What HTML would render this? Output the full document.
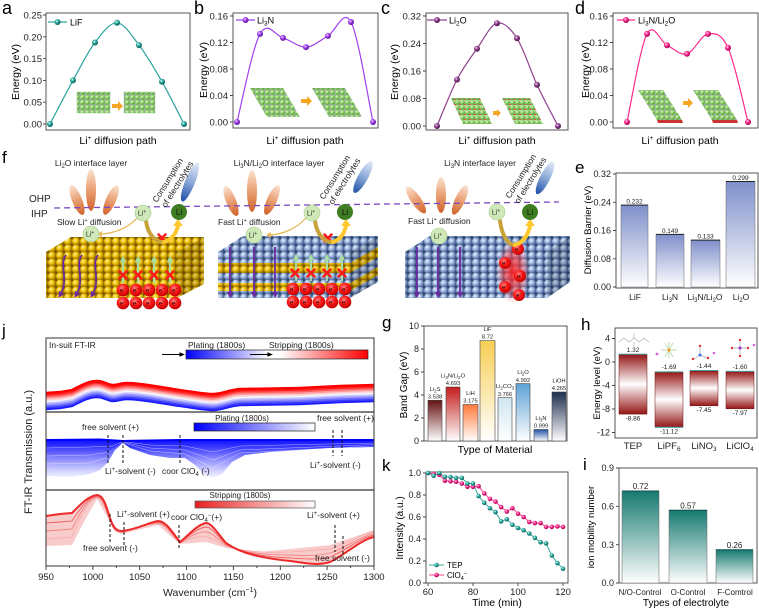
<!DOCTYPE html>
<html><head><meta charset="utf-8">
<style>
html,body{margin:0;padding:0;background:#fff;}
svg{display:block;font-family:"Liberation Sans",Arial,sans-serif;}
</style></head><body>
<svg width="759" height="609" viewBox="0 0 759 609" xmlns="http://www.w3.org/2000/svg">
<defs>
<radialGradient id="mTeal" cx=".38" cy=".35" r=".65"><stop offset="0" stop-color="#d8fff8"/><stop offset=".45" stop-color="#2aa89e"/><stop offset="1" stop-color="#0b5e58"/></radialGradient>
<radialGradient id="mViol" cx=".38" cy=".35" r=".65"><stop offset="0" stop-color="#f0d8ff"/><stop offset=".45" stop-color="#a040f0"/><stop offset="1" stop-color="#5a1090"/></radialGradient>
<radialGradient id="mPurp" cx=".38" cy=".35" r=".65"><stop offset="0" stop-color="#f0d0f0"/><stop offset=".45" stop-color="#904090"/><stop offset="1" stop-color="#4a1a4a"/></radialGradient>
<radialGradient id="mPink" cx=".38" cy=".35" r=".65"><stop offset="0" stop-color="#ffd8ec"/><stop offset=".45" stop-color="#ff2a8c"/><stop offset="1" stop-color="#a00050"/></radialGradient>
<radialGradient id="bGold" cx=".38" cy=".35" r=".65"><stop offset="0" stop-color="#fff6b0"/><stop offset=".45" stop-color="#f0c000"/><stop offset="1" stop-color="#9a7000"/></radialGradient>
<radialGradient id="bBlue" cx=".38" cy=".35" r=".65"><stop offset="0" stop-color="#eef4ff"/><stop offset=".45" stop-color="#9ab4dc"/><stop offset="1" stop-color="#4a6296"/></radialGradient>
<radialGradient id="bGreen" cx=".38" cy=".35" r=".65"><stop offset="0" stop-color="#eaffd8"/><stop offset=".5" stop-color="#8acb62"/><stop offset="1" stop-color="#3f8a25"/></radialGradient>
<radialGradient id="bRed" cx=".4" cy=".35" r=".65"><stop offset="0" stop-color="#ff8080"/><stop offset=".5" stop-color="#ff1a1a"/><stop offset="1" stop-color="#c00000"/></radialGradient>
<radialGradient id="glow" cx=".5" cy=".5" r=".5"><stop offset="0" stop-color="#ff2020" stop-opacity=".9"/><stop offset=".6" stop-color="#ff4040" stop-opacity=".5"/><stop offset="1" stop-color="#ff8080" stop-opacity="0"/></radialGradient>
<pattern id="patG" width="8" height="7" patternUnits="userSpaceOnUse"><rect width="8" height="7" fill="#7a5a00"/><circle cx="4" cy="3.5" r="4" fill="url(#bGold)"/></pattern>
<pattern id="patB" width="8" height="7" patternUnits="userSpaceOnUse"><rect width="8" height="7" fill="#34496e"/><circle cx="4" cy="3.5" r="4" fill="url(#bBlue)"/></pattern>
<pattern id="patGr" width="5" height="5" patternUnits="userSpaceOnUse"><rect width="5" height="5" fill="#b8e0a0"/><circle cx="2.5" cy="2.5" r="2.3" fill="url(#bGreen)"/><circle cx="0" cy="0" r="0.9" fill="#8888aa"/><circle cx="5" cy="0" r="0.9" fill="#8888aa"/><circle cx="0" cy="5" r="0.9" fill="#8888aa"/><circle cx="5" cy="5" r="0.9" fill="#8888aa"/></pattern>
<pattern id="patGrR" width="5" height="5" patternUnits="userSpaceOnUse"><rect width="5" height="5" fill="#b8e0a0"/><circle cx="2.5" cy="2.5" r="2.3" fill="url(#bGreen)"/><circle cx="0" cy="5" r="1" fill="#e02020"/><circle cx="5" cy="5" r="1" fill="#e02020"/></pattern>
<linearGradient id="gPet" x1="0" y1="0" x2="0" y2="1"><stop offset="0" stop-color="#fbe2d0"/><stop offset=".5" stop-color="#eaa074"/><stop offset="1" stop-color="#d0622a"/></linearGradient>
<linearGradient id="gCom" x1="0" y1="0" x2="0" y2="1"><stop offset="0" stop-color="#e4ecf8"/><stop offset=".5" stop-color="#8aa8d8"/><stop offset="1" stop-color="#1d4fa5"/></linearGradient>
<linearGradient id="gE" x1="0" y1="0" x2="0" y2="1"><stop offset="0" stop-color="#7f8fca"/><stop offset="1" stop-color="#ffffff"/></linearGradient>
<linearGradient id="g1" x1="0" y1="0" x2="0" y2="1"><stop offset="0" stop-color="#651212"/><stop offset="1" stop-color="#fff"/></linearGradient>
<linearGradient id="g2" x1="0" y1="0" x2="0" y2="1"><stop offset="0" stop-color="#c41c1c"/><stop offset="1" stop-color="#fff"/></linearGradient>
<linearGradient id="g3" x1="0" y1="0" x2="0" y2="1"><stop offset="0" stop-color="#ff7a3a"/><stop offset="1" stop-color="#fff"/></linearGradient>
<linearGradient id="g4" x1="0" y1="0" x2="0" y2="1"><stop offset="0" stop-color="#f7cf55"/><stop offset="1" stop-color="#fff"/></linearGradient>
<linearGradient id="g5" x1="0" y1="0" x2="0" y2="1"><stop offset="0" stop-color="#cfe6f2"/><stop offset="1" stop-color="#fff"/></linearGradient>
<linearGradient id="g6" x1="0" y1="0" x2="0" y2="1"><stop offset="0" stop-color="#5fa3d6"/><stop offset="1" stop-color="#fff"/></linearGradient>
<linearGradient id="g7" x1="0" y1="0" x2="0" y2="1"><stop offset="0" stop-color="#2150a5"/><stop offset="1" stop-color="#fff"/></linearGradient>
<linearGradient id="g8" x1="0" y1="0" x2="0" y2="1"><stop offset="0" stop-color="#1c2d4f"/><stop offset="1" stop-color="#fff"/></linearGradient>
<linearGradient id="gH" x1="0" y1="0" x2="0" y2="1"><stop offset="0" stop-color="#951515"/><stop offset=".5" stop-color="#fff"/><stop offset="1" stop-color="#951515"/></linearGradient>
<linearGradient id="gI" x1="0" y1="0" x2="0" y2="1"><stop offset="0" stop-color="#167a70"/><stop offset="1" stop-color="#fff"/></linearGradient>
<linearGradient id="gBar1" x1="0" y1="0" x2="1" y2="0"><stop offset="0" stop-color="#0000ff"/><stop offset=".45" stop-color="#fff"/><stop offset=".52" stop-color="#fff"/><stop offset="1" stop-color="#ff0000"/></linearGradient>
<linearGradient id="gBar2" x1="0" y1="0" x2="1" y2="0"><stop offset="0" stop-color="#0000ff"/><stop offset="1" stop-color="#fff"/></linearGradient>
<linearGradient id="gBar3" x1="0" y1="0" x2="1" y2="0"><stop offset="0" stop-color="#e82020"/><stop offset="1" stop-color="#fff"/></linearGradient>
<linearGradient id="gBlu" x1="0" y1="0" x2="0" y2="1"><stop offset="0" stop-color="#1010ff"/><stop offset=".15" stop-color="#3030ff"/><stop offset=".45" stop-color="#8080ff"/><stop offset=".8" stop-color="#d0d0ff"/><stop offset="1" stop-color="#f4f4ff"/></linearGradient>
<marker id="aP" viewBox="0 0 6 6" refX="3" refY="3" markerWidth="3.5" markerHeight="3.5" orient="auto"><path d="M0,0L6,3L0,6z" fill="#6a2aa0"/></marker>
<marker id="aGr" viewBox="0 0 6 6" refX="3" refY="3" markerWidth="3" markerHeight="3" orient="auto"><path d="M0,0L6,3L0,6z" fill="#a8dca0"/></marker>
<marker id="aK" viewBox="0 0 6 6" refX="5" refY="3" markerWidth="6" markerHeight="6" orient="auto"><path d="M0,0.5L6,3L0,5.5z" fill="#000"/></marker>
<path id="jt" fill="none" d="M46,393 L60,392 L72,390 C80,386 88,381 97,381 C104,381 108,385 113,385 C118,385 121,383 127,383 C140,383 160,387 180,390 C195,392 205,394 213,394 C222,394 228,390 240,389 L300,388 L340,386 L374,385"/>
</defs>

<!-- ===== Panel a ===== -->
<text x="2" y="14" font-size="18">a</text>
<rect x="46" y="13" width="144" height="117" fill="none" stroke="#444" stroke-width="0.9"/>
<path d="M43,124H46M43,102.2H46M43,80.4H46M43,58.6H46M43,36.8H46M43,15H46" stroke="#444" stroke-width="0.9"/>
<g font-size="9.5" text-anchor="end" fill="#222">
<text x="42" y="127.5">0.00</text><text x="42" y="105.7">0.05</text><text x="42" y="83.9">0.10</text><text x="42" y="62.1">0.15</text><text x="42" y="40.3">0.20</text><text x="42" y="18.5">0.25</text>
</g>
<text transform="translate(19,72) rotate(-90)" font-size="10.5" text-anchor="middle">Energy (eV)</text>
<text x="118" y="144" font-size="10.5" text-anchor="middle">Li<tspan font-size="6.5" dy="-4">+</tspan><tspan dy="4"> diffusion path</tspan></text>
<rect x="77" y="92" width="33" height="21" fill="url(#patGr)" stroke="#9c9" stroke-width=".5"/>
<polygon points="112,104 118,104 118,101 123,106 118,111 118,108 112,108" fill="#f5a623"/>
<rect x="124" y="92" width="31" height="21" fill="url(#patGr)" stroke="#9c9" stroke-width=".5"/>
<path d="M50,124 C53.8,116.7 65.5,94 73,80.4 C80.5,66.8 87.7,52.1 95,42.5 C102.3,32.9 109.7,22.4 117,22.8 C124.3,23.2 131.5,35.3 139,45.1 C146.5,54.9 154.5,68.5 162,81.7 C169.5,94.9 180.3,116.9 184,124" fill="none" stroke="#2aa39b" stroke-width="1.2"/>
<g fill="url(#mTeal)"><circle cx="50" cy="124" r="3"/><circle cx="73" cy="80.4" r="3"/><circle cx="95" cy="42.5" r="3"/><circle cx="117" cy="22.8" r="3"/><circle cx="139" cy="45.1" r="3"/><circle cx="162" cy="81.7" r="3"/><circle cx="184" cy="124" r="3"/></g>
<line x1="48" y1="22" x2="67" y2="22" stroke="#2aa39b" stroke-width="1.2"/><circle cx="57.5" cy="22" r="3" fill="url(#mTeal)"/>
<text x="70" y="25.3" font-size="9">LiF</text>

<!-- ===== Panel b ===== -->
<text x="194" y="14" font-size="18">b</text>
<rect x="233" y="13" width="145" height="115" fill="none" stroke="#444" stroke-width="0.9"/>
<path d="M230,122H233M230,95.5H233M230,69H233M230,42.5H233M230,16H233" stroke="#444" stroke-width="0.9"/>
<g font-size="9.5" text-anchor="end" fill="#222">
<text x="228" y="125.5">0.00</text><text x="228" y="99">0.04</text><text x="228" y="72.5">0.08</text><text x="228" y="46">0.12</text><text x="228" y="19.5">0.16</text>
</g>
<text transform="translate(207,70) rotate(-90)" font-size="10.5" text-anchor="middle">Energy (eV)</text>
<text x="305" y="144" font-size="10.5" text-anchor="middle">Li<tspan font-size="6.5" dy="-4">+</tspan><tspan dy="4"> diffusion path</tspan></text>
<polygon points="250,88 283,88 300,117 267,117" fill="url(#patGr)"/>
<polygon points="301,99 307,99 307,96 312,101 307,106 307,103 301,103" fill="#f5a623"/>
<polygon points="312,88 345,88 362,117 329,117" fill="url(#patGr)"/>
<path d="M237,122 C240.8,107.3 252.3,47.9 260,33.9 C267.7,19.9 275.3,35.7 283,37.9 C290.7,40.1 298.5,47.4 306,47.1 C313.5,46.8 320.5,40.1 328,35.9 C335.5,31.7 343.5,7.65 351,22 C358.5,36.35 369.3,105.3 373,122" fill="none" stroke="#a040f0" stroke-width="1.2"/>
<g fill="url(#mViol)"><circle cx="237" cy="122" r="3"/><circle cx="260" cy="33.9" r="3"/><circle cx="283" cy="37.9" r="3"/><circle cx="306" cy="47.1" r="3"/><circle cx="328" cy="35.9" r="3"/><circle cx="351" cy="22" r="3"/><circle cx="373" cy="122" r="3"/></g>
<line x1="236" y1="20" x2="255" y2="20" stroke="#a040f0" stroke-width="1.2"/><circle cx="245.5" cy="20" r="3" fill="url(#mViol)"/>
<text x="257" y="23.3" font-size="9">Li<tspan font-size="6.5" dy="2">3</tspan><tspan dy="-2">N</tspan></text>

<!-- ===== Panel c ===== -->
<text x="381" y="14" font-size="18">c</text>
<rect x="426" y="13" width="142" height="117" fill="none" stroke="#444" stroke-width="0.9"/>
<path d="M423,126H426M423,98.5H426M423,71H426M423,43.5H426M423,16H426" stroke="#444" stroke-width="0.9"/>
<g font-size="9.5" text-anchor="end" fill="#222">
<text x="421" y="129.5">0.00</text><text x="421" y="102">0.08</text><text x="421" y="74.5">0.16</text><text x="421" y="47">0.24</text><text x="421" y="19.5">0.32</text>
</g>
<text transform="translate(398,72) rotate(-90)" font-size="10.5" text-anchor="middle">Energy (eV)</text>
<text x="497" y="144" font-size="10.5" text-anchor="middle">Li<tspan font-size="6.5" dy="-4">+</tspan><tspan dy="4"> diffusion path</tspan></text>
<polygon points="451,98 480,98 492,124 463,124" fill="url(#patGrR)"/>
<polygon points="493,111 497,111 497,109 501,113 497,117 497,115 493,115" fill="#f5a623"/>
<polygon points="502,98 530,98 543,124 515,124" fill="url(#patGrR)"/>
<path d="M437,126 C440.3,118.3 450.3,92.5 457,79.6 C463.7,66.7 470.3,58.1 477,48.7 C483.7,39.3 490.3,24.9 497,23.2 C503.7,21.5 510.3,28 517,38.3 C523.7,48.6 530.2,70.1 537,84.75 C543.8,99.4 554.5,119.1 558,126" fill="none" stroke="#904090" stroke-width="1.2"/>
<g fill="url(#mPurp)"><circle cx="437" cy="126" r="3"/><circle cx="457" cy="79.6" r="3"/><circle cx="477" cy="48.7" r="3"/><circle cx="497" cy="23.2" r="3"/><circle cx="517" cy="38.3" r="3"/><circle cx="537" cy="84.75" r="3"/><circle cx="558" cy="126" r="3"/></g>
<line x1="427" y1="20" x2="447" y2="20" stroke="#904090" stroke-width="1.2"/><circle cx="437" cy="20" r="3" fill="url(#mPurp)"/>
<text x="449" y="23.3" font-size="9">Li<tspan font-size="6.5" dy="2">2</tspan><tspan dy="-2">O</tspan></text>

<!-- ===== Panel d ===== -->
<text x="575" y="14" font-size="18">d</text>
<rect x="613" y="13" width="145" height="115" fill="none" stroke="#444" stroke-width="0.9"/>
<path d="M610,122H613M610,95.5H613M610,69H613M610,42.5H613M610,16H613" stroke="#444" stroke-width="0.9"/>
<g font-size="9.5" text-anchor="end" fill="#222">
<text x="608" y="125.5">0.00</text><text x="608" y="99">0.04</text><text x="608" y="72.5">0.08</text><text x="608" y="46">0.12</text><text x="608" y="19.5">0.16</text>
</g>
<text transform="translate(589,70) rotate(-90)" font-size="10.5" text-anchor="middle">Energy (eV)</text>
<text x="680" y="144" font-size="10.5" text-anchor="middle">Li<tspan font-size="6.5" dy="-4">+</tspan><tspan dy="4"> diffusion path</tspan></text>
<polygon points="638,90 663,90 682,120 657,120" fill="url(#patGr)"/>
<polygon points="657,120 682,120 683,123 658,123" fill="#c33"/>
<polygon points="683,101 688,101 688,98 693,103 688,108 688,105 683,105" fill="#f5a623"/>
<polygon points="693,90 718,90 737,120 712,120" fill="url(#patGr)"/>
<polygon points="712,120 737,120 738,123 713,123" fill="#c33"/>
<path d="M627,122 C630.3,107.3 640.3,46.7 647,33.9 C653.7,21.1 660.3,41.9 667,45.2 C673.7,48.5 680.2,55.7 687,53.8 C693.8,51.9 701.2,34.9 708,33.9 C714.8,32.9 721.3,33.1 728,47.8 C734.7,62.5 744.7,109.6 748,122" fill="none" stroke="#ff2a8c" stroke-width="1.2"/>
<g fill="url(#mPink)"><circle cx="627" cy="122" r="3"/><circle cx="647" cy="33.9" r="3"/><circle cx="667" cy="45.2" r="3"/><circle cx="687" cy="53.8" r="3"/><circle cx="708" cy="33.9" r="3"/><circle cx="728" cy="47.8" r="3"/><circle cx="748" cy="122" r="3"/></g>
<line x1="617" y1="20" x2="635" y2="20" stroke="#ff2a8c" stroke-width="1.2"/><circle cx="626" cy="20" r="3" fill="url(#mPink)"/>
<text x="638" y="23.3" font-size="9">Li<tspan font-size="6.5" dy="2">3</tspan><tspan dy="-2">N/Li</tspan><tspan font-size="6.5" dy="2">2</tspan><tspan dy="-2">O</tspan></text>

<!-- ===== Panel f ===== -->
<text x="2" y="163" font-size="17">f</text>
<g font-size="8.5" text-anchor="middle" fill="#222">
<text x="91" y="166">Li<tspan font-size="6" dy="2">2</tspan><tspan dy="-2">O interface layer</tspan></text>
<text x="279" y="166">Li<tspan font-size="6" dy="2">3</tspan><tspan dy="-2">N/Li</tspan><tspan font-size="6" dy="2">2</tspan><tspan dy="-2">O interface layer</tspan></text>
<text x="480" y="166">Li<tspan font-size="6" dy="2">3</tspan><tspan dy="-2">N interface layer</tspan></text>
</g>
<text x="29" y="202" font-size="10" fill="#222">OHP</text>
<text x="31" y="217" font-size="10" fill="#222">IHP</text>
<g fill="url(#gPet)">
<ellipse cx="77" cy="200" rx="5" ry="16" transform="rotate(-22 77 200)"/><ellipse cx="91" cy="190" rx="5" ry="21"/><ellipse cx="111" cy="200" rx="5" ry="16" transform="rotate(24 111 200)"/>
<ellipse cx="231" cy="201" rx="5" ry="16" transform="rotate(-22 231 201)"/><ellipse cx="252" cy="191" rx="5" ry="21"/><ellipse cx="272" cy="200" rx="5" ry="16" transform="rotate(24 272 200)"/>
<ellipse cx="416" cy="200" rx="5" ry="16" transform="rotate(-35 416 200)"/><ellipse cx="441" cy="195" rx="5" ry="18"/><ellipse cx="460" cy="200" rx="5" ry="16" transform="rotate(25 460 200)"/>
</g>
<g fill="url(#gCom)">
<ellipse cx="190" cy="182" rx="5" ry="21" transform="rotate(22 190 182)"/>
<ellipse cx="363" cy="177" rx="5" ry="18" transform="rotate(29 363 177)"/>
<ellipse cx="545" cy="178" rx="5" ry="18" transform="rotate(27 545 178)"/>
</g>
<line x1="54" y1="208" x2="559" y2="202" stroke="#7a4ac0" stroke-width="1.3" stroke-dasharray="6 4"/>
<g font-size="8.5" fill="#222">
<text transform="translate(157,203) rotate(-58)">Consumption</text>
<text transform="translate(166,208) rotate(-58)">of electrolytes</text>
<text transform="translate(324,200) rotate(-58)">Consumption</text>
<text transform="translate(333,205) rotate(-58)">of electrolytes</text>
<text transform="translate(510,199) rotate(-58)">Consumption</text>
<text transform="translate(519,204) rotate(-58)">of electrolytes</text>
<text x="57" y="225">Slow Li<tspan font-size="5.5" dy="-3">+</tspan><tspan dy="3"> diffusion</tspan></text>
<text x="218" y="225">Fast Li<tspan font-size="5.5" dy="-3">+</tspan><tspan dy="3"> diffusion</tspan></text>
<text x="408" y="224">Fast Li<tspan font-size="5.5" dy="-3">+</tspan><tspan dy="3"> diffusion</tspan></text>
</g>
<polygon points="46,252 71,237 204,237 177,252" fill="url(#patG)"/>
<rect x="46" y="252" width="131" height="46" fill="url(#patG)"/>
<polygon points="177,252 204,237 204,284 177,298" fill="url(#patG)"/>
<polygon points="177,252 204,237 204,284 177,298" fill="#000" opacity=".15"/>
<polygon points="218,252 243,236 378,236 350,252" fill="url(#patB)"/>
<rect x="218" y="252" width="132" height="46" fill="url(#patB)"/>
<rect x="218" y="263" width="132" height="10" fill="url(#patG)"/>
<rect x="218" y="283" width="132" height="8" fill="url(#patG)"/>
<polygon points="350,252 378,236 378,282 350,298" fill="url(#patB)"/>
<polygon points="350,263 378,247 378,257 350,273" fill="url(#patG)"/>
<polygon points="350,283 378,267 378,275 350,291" fill="url(#patG)"/>
<polygon points="350,252 378,236 378,282 350,298" fill="#000" opacity=".15"/>
<polygon points="405,252 430,236 570,236 547,252" fill="url(#patB)"/>
<rect x="405" y="252" width="142" height="46" fill="url(#patB)"/>
<polygon points="547,252 570,236 570,282 547,298" fill="url(#patB)"/>
<polygon points="547,252 570,236 570,282 547,298" fill="#000" opacity=".15"/>
<ellipse cx="513" cy="272" rx="17" ry="32" fill="url(#glow)"/>
<g fill="none" stroke="#6a2aa0" stroke-width="1.8" marker-end="url(#aP)">
<path d="M66,255 C58,265 70,278 60,295"/><path d="M82,255 C74,265 86,278 76,295"/><path d="M98,255 C90,265 102,278 92,295"/>
<path d="M230,247 L230,295"/><path d="M254,247 L254,295"/><path d="M275,247 L275,295"/>
<path d="M417,247 L417,295"/><path d="M438,247 L438,295"/><path d="M460,247 L460,295"/>
</g>
<g stroke="#a8dca0" stroke-width="2.2" marker-end="url(#aGr)">
<line x1="123" y1="283" x2="123" y2="259"/><line x1="138" y1="283" x2="138" y2="259"/><line x1="154" y1="283" x2="154" y2="259"/><line x1="170" y1="283" x2="170" y2="259"/>
<line x1="296" y1="281" x2="296" y2="257"/><line x1="311" y1="281" x2="311" y2="257"/><line x1="327" y1="281" x2="327" y2="257"/><line x1="342" y1="281" x2="342" y2="257"/>
</g>
<g stroke="#ff1a1a" stroke-width="2.6" stroke-linecap="round">
<path d="M158.5,234.5L165.5,241.5M165.5,234.5L158.5,241.5"/>
<path d="M119.5,271.5L126.5,278.5M126.5,271.5L119.5,278.5"/>
<path d="M134.5,271.5L141.5,278.5M141.5,271.5L134.5,278.5"/>
<path d="M150.5,271.5L157.5,278.5M157.5,271.5L150.5,278.5"/>
<path d="M166.5,271.5L173.5,278.5M173.5,271.5L166.5,278.5"/>
<path d="M324.5,234.5L331.5,241.5M331.5,234.5L324.5,241.5"/>
<path d="M291.5,269.5L298.5,276.5M298.5,269.5L291.5,276.5"/>
<path d="M307.5,269.5L314.5,276.5M314.5,269.5L307.5,276.5"/>
<path d="M323.5,269.5L330.5,276.5M330.5,269.5L323.5,276.5"/>
<path d="M338.5,269.5L345.5,276.5M345.5,269.5L338.5,276.5"/>
</g>
<g fill="url(#bRed)">
<circle cx="123" cy="290" r="6.3"/><circle cx="136" cy="290" r="6.3"/><circle cx="149" cy="290" r="6.3"/><circle cx="162" cy="290" r="6.3"/><circle cx="175" cy="290" r="6.3"/>
<circle cx="123" cy="303" r="6.3"/><circle cx="136" cy="303" r="6.3"/><circle cx="149" cy="303" r="6.3"/><circle cx="162" cy="303" r="6.3"/><circle cx="175" cy="303" r="6.3"/>
<circle cx="293" cy="289" r="6.3"/><circle cx="306" cy="289" r="6.3"/><circle cx="319" cy="289" r="6.3"/><circle cx="332" cy="289" r="6.3"/><circle cx="345" cy="289" r="6.3"/>
<circle cx="293" cy="302" r="6.3"/><circle cx="306" cy="302" r="6.3"/><circle cx="319" cy="302" r="6.3"/><circle cx="332" cy="302" r="6.3"/><circle cx="345" cy="302" r="6.3"/>
<circle cx="518" cy="249" r="6"/><circle cx="505" cy="263" r="6"/><circle cx="520" cy="276" r="6"/><circle cx="505" cy="287" r="6"/><circle cx="519" cy="295" r="6"/>
</g>
<g font-size="6.5" fill="#300" text-anchor="middle">
<text x="123" y="292.5">e<tspan font-size="4.5" dy="-2.5">−</tspan></text><text x="136" y="292.5">e<tspan font-size="4.5" dy="-2.5">−</tspan></text><text x="149" y="292.5">e<tspan font-size="4.5" dy="-2.5">−</tspan></text><text x="162" y="292.5">e<tspan font-size="4.5" dy="-2.5">−</tspan></text><text x="175" y="292.5">e<tspan font-size="4.5" dy="-2.5">−</tspan></text>
<text x="123" y="305.5">e<tspan font-size="4.5" dy="-2.5">−</tspan></text><text x="136" y="305.5">e<tspan font-size="4.5" dy="-2.5">−</tspan></text><text x="149" y="305.5">e<tspan font-size="4.5" dy="-2.5">−</tspan></text><text x="162" y="305.5">e<tspan font-size="4.5" dy="-2.5">−</tspan></text><text x="175" y="305.5">e<tspan font-size="4.5" dy="-2.5">−</tspan></text>
<text x="293" y="291.5">e<tspan font-size="4.5" dy="-2.5">−</tspan></text><text x="306" y="291.5">e<tspan font-size="4.5" dy="-2.5">−</tspan></text><text x="319" y="291.5">e<tspan font-size="4.5" dy="-2.5">−</tspan></text><text x="332" y="291.5">e<tspan font-size="4.5" dy="-2.5">−</tspan></text><text x="345" y="291.5">e<tspan font-size="4.5" dy="-2.5">−</tspan></text>
<text x="293" y="304.5">e<tspan font-size="4.5" dy="-2.5">−</tspan></text><text x="306" y="304.5">e<tspan font-size="4.5" dy="-2.5">−</tspan></text><text x="319" y="304.5">e<tspan font-size="4.5" dy="-2.5">−</tspan></text><text x="332" y="304.5">e<tspan font-size="4.5" dy="-2.5">−</tspan></text><text x="345" y="304.5">e<tspan font-size="4.5" dy="-2.5">−</tspan></text>
<text x="518" y="251.5">e<tspan font-size="4.5" dy="-2.5">−</tspan></text><text x="505" y="265.5">e<tspan font-size="4.5" dy="-2.5">−</tspan></text><text x="520" y="278.5">e<tspan font-size="4.5" dy="-2.5">−</tspan></text><text x="505" y="289.5">e<tspan font-size="4.5" dy="-2.5">−</tspan></text><text x="519" y="297.5">e<tspan font-size="4.5" dy="-2.5">−</tspan></text>
</g>
<g fill="none" stroke-width="4" stroke-linecap="round">
<path d="M146,221 C148,236 157,243 164,242" stroke="#c9a23a"/><path d="M164,242 C171,240 176,234 178,226" stroke="#ffc82e"/>
<path d="M315,221 C317,236 326,243 333,242" stroke="#c9a23a"/><path d="M333,242 C340,240 344,234 346,226" stroke="#ffc82e"/>
<path d="M500,221 C502,236 508,245 515,245" stroke="#c9a23a"/><path d="M515,245 C522,243 528,236 530,226" stroke="#ffc82e"/>
</g>
<g fill="#ffc82e"><polygon points="173,226 183,226 178,219"/><polygon points="341,226 351,226 346,219"/><polygon points="525,226 535,226 530,219"/></g>
<g fill="none" stroke="#e7b95a" stroke-width="1.3">
<path d="M137,218 C128,228 115,233 102,234"/><path d="M306,218 C297,228 284,234 271,235"/>
</g>
<g fill="#e7b95a"><polygon points="102,231 102,237 97,234"/><polygon points="271,232 271,238 266,235"/></g>
<g fill="#cfe8b8" stroke="#a8cc90" stroke-width=".6">
<circle cx="143" cy="213" r="8"/><circle cx="91" cy="234" r="8"/>
<circle cx="312" cy="213" r="8"/><circle cx="254" cy="235" r="8"/>
<circle cx="497" cy="212" r="8"/><circle cx="439" cy="236" r="8"/>
</g>
<g fill="#3f7d22"><circle cx="179" cy="212" r="8"/><circle cx="345" cy="212" r="8"/><circle cx="530" cy="212" r="8"/></g>
<g font-size="7" fill="#333" text-anchor="middle">
<text x="142" y="215.5">Li<tspan font-size="5" dy="-2.5">+</tspan></text><text x="90" y="236.5">Li<tspan font-size="5" dy="-2.5">+</tspan></text>
<text x="311" y="215.5">Li<tspan font-size="5" dy="-2.5">+</tspan></text><text x="253" y="237.5">Li<tspan font-size="5" dy="-2.5">+</tspan></text>
<text x="496" y="214.5">Li<tspan font-size="5" dy="-2.5">+</tspan></text><text x="438" y="238.5">Li<tspan font-size="5" dy="-2.5">+</tspan></text>
</g>
<g font-size="8" fill="#111" text-anchor="middle"><text x="179" y="215">Li</text><text x="345" y="215">Li</text><text x="530" y="215">Li</text></g>

<!-- ===== Panel e ===== -->
<text x="575" y="173" font-size="17">e</text>
<rect x="616" y="173" width="142" height="115" fill="none" stroke="#444" stroke-width="0.9"/>
<path d="M613,287H616M613,258.8H616M613,230.5H616M613,202.3H616M613,174H616" stroke="#444" stroke-width="0.9"/>
<g font-size="9" text-anchor="end" fill="#222">
<text x="611" y="290.2">0.00</text><text x="611" y="262">0.08</text><text x="611" y="233.7">0.16</text><text x="611" y="205.5">0.24</text><text x="611" y="177.2">0.32</text>
</g>
<text transform="translate(591,230) rotate(-90)" font-size="9.5" text-anchor="middle">Diffusion Barrier (eV)</text>
<g stroke="#666" stroke-width=".5">
<rect x="621" y="205.1" width="27" height="81.9" fill="url(#gE)"/>
<rect x="656" y="234.4" width="28" height="52.6" fill="url(#gE)"/>
<rect x="691" y="240.1" width="29" height="46.9" fill="url(#gE)"/>
<rect x="726" y="181.5" width="29" height="105.5" fill="url(#gE)"/>
</g>
<g stroke="#222" stroke-width="1"><line x1="621" y1="205.1" x2="648" y2="205.1"/><line x1="656" y1="234.4" x2="684" y2="234.4"/><line x1="691" y1="240.1" x2="720" y2="240.1"/><line x1="726" y1="181.5" x2="755" y2="181.5"/></g>
<g font-size="6.5" text-anchor="middle" fill="#222">
<text x="634.5" y="203.5">0.232</text><text x="670" y="232.8">0.149</text><text x="705.5" y="238.5">0.133</text><text x="740.5" y="180">0.299</text>
</g>
<g font-size="8.5" text-anchor="middle" fill="#222">
<text x="635" y="300">LiF</text>
<text x="670" y="300">Li<tspan font-size="6" dy="2">3</tspan><tspan dy="-2">N</tspan></text>
<text x="705" y="300">Li<tspan font-size="6" dy="2">3</tspan><tspan dy="-2">N/Li</tspan><tspan font-size="6" dy="2">2</tspan><tspan dy="-2">O</tspan></text>
<text x="741" y="300">Li<tspan font-size="6" dy="2">2</tspan><tspan dy="-2">O</tspan></text>
</g>

<!-- ===== Panel j ===== -->
<text x="2" y="336" font-size="17">j</text>
<g stroke-width="2.4" fill="none">
<use href="#jt" stroke="#1a1aff" transform="translate(0,16)"/>
<use href="#jt" stroke="#3a3aff" transform="translate(0,14.4)"/>
<use href="#jt" stroke="#6a6aff" transform="translate(0,12.8)"/>
<use href="#jt" stroke="#9a9aff" transform="translate(0,11.2)"/>
<use href="#jt" stroke="#c8c8ff" transform="translate(0,9.6)"/>
<use href="#jt" stroke="#f4f4ff" transform="translate(0,8)"/>
<use href="#jt" stroke="#ffd0d0" transform="translate(0,6.4)"/>
<use href="#jt" stroke="#ff9a9a" transform="translate(0,4.8)"/>
<use href="#jt" stroke="#ff5a5a" transform="translate(0,3.2)"/>
<use href="#jt" stroke="#ff2020" transform="translate(0,1.6)"/>
<use href="#jt" stroke="#ff0000"/>
</g>
<text x="49" y="348" font-size="8.5" fill="#222">In-suit FT-IR</text>
<text x="188" y="348" font-size="8.5" fill="#222">Plating (1800s)</text>
<text x="269" y="348" font-size="8.5" fill="#222">Stripping (1800s)</text>
<rect x="186" y="350" width="182" height="9" fill="url(#gBar1)" stroke="#222" stroke-width=".7"/>
<line x1="162" y1="354.5" x2="184" y2="354.5" stroke="#000" stroke-width="0.9" marker-end="url(#aK)"/>
<line x1="250" y1="354.5" x2="272" y2="354.5" stroke="#000" stroke-width="0.9" marker-end="url(#aK)"/>
<path d="M46,440 L374,440 L374,447 L330,448 L300,450 L270,452 L245,455 L232,462 L222,474 L213,478 L205,475 L195,465 L185,458 L170,458 L150,455 L130,448 L123,443 L115,450 L108,462 L100,470 L90,474 L70,477 L46,476 Z" fill="url(#gBlu)"/>
<g fill="none" stroke="#fff" stroke-width=".5" opacity=".6">
<path d="M46,448 L90,447 L112,446 L123,441.5 L150,445 L185,446 L213,452 L240,446 L374,443"/>
<path d="M46,456 L90,455 L110,452 L123,442 L150,448 L185,450 L213,460 L240,450 L374,444.5"/>
<path d="M46,464 L90,463 L108,457 L123,442.5 L150,451 L185,454 L213,468 L240,453 L374,446"/>
</g>
<path d="M46,440 L100,439.5 L123,441 L180,440 L374,440" fill="none" stroke="#0000ff" stroke-width="2"/>
<text x="242" y="421" font-size="8" text-anchor="middle" fill="#222">Plating (1800s)</text>
<rect x="194" y="423" width="121" height="8" fill="url(#gBar2)" stroke="#222" stroke-width=".7"/>
<text x="82" y="430" font-size="8.5" fill="#222">free solvent (+)</text>
<text x="317" y="421" font-size="8.5" fill="#222">free solvent (+)</text>
<g stroke="#111" stroke-width="1" stroke-dasharray="3 2">
<line x1="108" y1="435" x2="108" y2="465"/><line x1="123" y1="435" x2="123" y2="465"/><line x1="180" y1="435" x2="180" y2="465"/>
<line x1="333" y1="430" x2="333" y2="456"/><line x1="342" y1="430" x2="342" y2="456"/>
</g>
<g font-size="8.5" fill="#222">
<text x="105" y="474">Li<tspan font-size="6" dy="-3">+</tspan><tspan dy="3">-solvent (-)</tspan></text>
<text x="162" y="474">coor ClO<tspan font-size="6" dy="2">4</tspan><tspan dy="-2"> (-)</tspan></text>
<text x="310" y="468">Li<tspan font-size="6" dy="-3">+</tspan><tspan dy="3">-solvent (-)</tspan></text>
</g>
<!-- bottom red -->
<path d="M46,516 L60,514 L72,513 C80,505 88,496 97,495 C103,495 106,505 110,518 C113,527 116,531 122,531 C135,530 150,522 158,521 C166,521 172,532 180,542 C186,538 196,525 206,523 C212,523 218,534 226,543 C240,553 260,558 290,561 C305,563 318,566 330,562 C345,555 360,540 374,537 L374,530 L330,545 L300,548 L260,552 L226,548 L206,542 L180,544 L158,525 L122,534 L110,522 L97,499 L85,520 L72,545 L46,546 Z" fill="#f9cccc"/>
<path d="M46,539 L60,538 L72,537 C80,517 88,499 97,498 C103,498 106,512 110,521 C113,530 116,533 122,533 C135,527 150,524 158,524 C166,524 172,537 180,543 C186,541 196,535 206,537 C212,537 218,543 226,546 C240,551 260,553 290,552 C305,551 318,550 330,549 C345,545 360,535 374,531" fill="none" stroke="#f7a8a8" stroke-width="0.8"/>
<path d="M46,531 L60,530 L72,529 C80,513 88,498 97,497 C103,497 106,510 110,520 C113,529 116,532 122,532 C135,528 150,523 158,523 C166,523 172,535 180,543 C186,540 196,531 206,532 C212,532 218,540 226,545 C240,552 260,555 290,555 C305,556 318,556 330,553 C345,548 360,537 374,533" fill="none" stroke="#f48080" stroke-width="0.9"/>
<path d="M46,523 L60,522 L72,521 C80,509 88,497 97,496 C103,496 106,507 110,519 C113,528 116,531 122,531 C135,529 150,522 158,522 C166,522 172,533 180,542 C186,539 196,528 206,527 C212,527 218,537 226,544 C240,552 260,557 290,558 C305,559 318,560 330,557 C345,551 360,538 374,535" fill="none" stroke="#f06060" stroke-width="0.9"/>
<path d="M46,516 L60,514 L72,513 C80,505 88,496 97,495 C103,495 106,505 110,518 C113,527 116,531 122,531 C135,530 150,522 158,521 C166,521 172,532 180,542 C186,538 196,525 206,523 C212,523 218,534 226,543 C240,553 260,558 290,561 C305,563 318,566 330,562 C345,555 360,540 374,537" fill="none" stroke="#ec2a2a" stroke-width="2"/>
<text x="240" y="498" font-size="8" text-anchor="middle" fill="#222">Stripping (1800s)</text>
<rect x="195" y="501" width="120" height="7" fill="url(#gBar3)" stroke="#555" stroke-width=".7"/>
<g stroke="#111" stroke-width="1" stroke-dasharray="3 2">
<line x1="110" y1="514" x2="110" y2="542"/><line x1="124" y1="522" x2="124" y2="545"/><line x1="179" y1="525" x2="179" y2="550"/>
<line x1="335" y1="525" x2="335" y2="552"/><line x1="343" y1="536" x2="343" y2="555"/>
</g>
<g font-size="8.5" fill="#222">
<text x="117" y="517">Li<tspan font-size="6" dy="-3">+</tspan><tspan dy="3">-solvent (+)</tspan></text>
<text x="171" y="520">coor ClO<tspan font-size="6" dy="2">4</tspan><tspan font-size="6" dy="-5">−</tspan><tspan dy="3">(+)</tspan></text>
<text x="83" y="551">free solvent (-)</text>
<text x="307" y="518">Li<tspan font-size="6" dy="-3">+</tspan><tspan dy="3">-solvent (+)</tspan></text>
<text x="315" y="561">free solvent (-)</text>
</g>
<rect x="46" y="338" width="328" height="228" fill="none" stroke="#333" stroke-width="1"/>
<line x1="46" y1="412" x2="374" y2="412" stroke="#333" stroke-width="1.2"/>
<line x1="46" y1="490" x2="374" y2="490" stroke="#333" stroke-width="1.2"/>
<path d="M46,566V570M92.9,566V570M139.7,566V570M186.6,566V570M233.4,566V570M280.3,566V570M327.1,566V570M374,566V570M69.4,566V568M116.3,566V568M163.1,566V568M210,566V568M256.9,566V568M303.7,566V568M350.6,566V568" stroke="#333" stroke-width=".9"/>
<g font-size="9.5" text-anchor="middle" fill="#222">
<text x="46" y="580">950</text><text x="92.9" y="580">1000</text><text x="139.7" y="580">1050</text><text x="186.6" y="580">1100</text><text x="233.4" y="580">1150</text><text x="280.3" y="580">1200</text><text x="327.1" y="580">1250</text><text x="374" y="580">1300</text>
</g>
<text x="210" y="596" font-size="10.5" text-anchor="middle" fill="#222">Wavenumber (cm<tspan font-size="7" dy="-4">−1</tspan><tspan dy="4">)</tspan></text>
<text transform="translate(32,452) rotate(-90)" font-size="11" text-anchor="middle" fill="#222">FT-IR Transmission (a.u.)</text>

<!-- ===== Panel g ===== -->
<text x="382" y="328" font-size="17">g</text>
<rect x="424" y="326" width="143" height="115" fill="none" stroke="#444" stroke-width="0.9"/>
<path d="M421,441H424M421,418H424M421,395H424M421,372H424M421,349H424M421,326H424" stroke="#444" stroke-width="0.9"/>
<g font-size="9" text-anchor="end" fill="#222">
<text x="419" y="444.2">0</text><text x="419" y="421.2">2</text><text x="419" y="398.2">4</text><text x="419" y="375.2">6</text><text x="419" y="352.2">8</text><text x="419" y="329.2">10</text>
</g>
<text transform="translate(407,385) rotate(-90)" font-size="10" text-anchor="middle">Band Gap (eV)</text>
<g stroke="#444" stroke-width=".6">
<rect x="428" y="400.3" width="14" height="40.7" fill="url(#g1)"/>
<rect x="446" y="387" width="14" height="54" fill="url(#g2)"/>
<rect x="463" y="404.5" width="15" height="36.5" fill="url(#g3)"/>
<rect x="480" y="340.7" width="15" height="100.3" fill="url(#g4)"/>
<rect x="498" y="397.7" width="14" height="43.3" fill="url(#g5)"/>
<rect x="516" y="383.6" width="14" height="57.4" fill="url(#g6)"/>
<rect x="534" y="429.5" width="14" height="11.5" fill="url(#g7)"/>
<rect x="552" y="392" width="14" height="49" fill="url(#g8)"/>
</g>
<g font-size="5.8" text-anchor="middle" fill="#222">
<text x="435" y="391">Li<tspan font-size="4.5" dy="1.5">2</tspan><tspan dy="-1.5">S</tspan></text><text x="435" y="398.5">3.538</text>
<text x="453" y="377.5">Li<tspan font-size="4.5" dy="1.5">3</tspan><tspan dy="-1.5">N/Li</tspan><tspan font-size="4.5" dy="1.5">2</tspan><tspan dy="-1.5">O</tspan></text><text x="453" y="385.2">4.693</text>
<text x="470.5" y="395">LiH</text><text x="470.5" y="402.7">3.175</text>
<text x="487.5" y="331">LiF</text><text x="487.5" y="338.7">8.72</text>
<text x="505" y="388">Li<tspan font-size="4.5" dy="1.5">2</tspan><tspan dy="-1.5">CO</tspan><tspan font-size="4.5" dy="1.5">3</tspan></text><text x="505" y="395.8">3.766</text>
<text x="523" y="374">Li<tspan font-size="4.5" dy="1.5">2</tspan><tspan dy="-1.5">O</tspan></text><text x="523" y="381.8">4.992</text>
<text x="541" y="420">Li<tspan font-size="4.5" dy="1.5">3</tspan><tspan dy="-1.5">N</tspan></text><text x="541" y="427.7">0.999</text>
<text x="559" y="382.5">LiOH</text><text x="559" y="390.2">4.265</text>
</g>
<text x="495" y="453" font-size="10.5" text-anchor="middle">Type of Material</text>

<!-- ===== Panel h ===== -->
<text x="581" y="330" font-size="17">h</text>
<rect x="615" y="328" width="142" height="110" fill="none" stroke="#444" stroke-width="0.9"/>
<path d="M612,338.5H615M612,362H615M612,385.5H615M612,409H615M612,432.5H615" stroke="#444" stroke-width="0.9"/>
<g font-size="9" text-anchor="end" fill="#222">
<text x="610" y="341.7">4</text><text x="610" y="365.2">0</text><text x="610" y="388.7">-4</text><text x="610" y="412.2">-8</text><text x="610" y="435.7">-12</text>
</g>
<text transform="translate(600,383) rotate(-90)" font-size="9.5" text-anchor="middle">Energy level (eV)</text>
<g stroke="#6a1010" stroke-width=".5">
<rect x="619" y="354.2" width="28" height="59.9" fill="url(#gH)"/>
<rect x="655" y="371.9" width="28" height="55.4" fill="url(#gH)"/>
<rect x="690" y="370.5" width="28" height="35.3" fill="url(#gH)"/>
<rect x="726" y="371.4" width="28" height="37.4" fill="url(#gH)"/>
</g>
<g stroke="#3a9a9a" stroke-width="1"><line x1="619" y1="354.2" x2="647" y2="354.2"/><line x1="655" y1="371.9" x2="683" y2="371.9"/><line x1="690" y1="370.5" x2="718" y2="370.5"/><line x1="726" y1="371.4" x2="754" y2="371.4"/><line x1="655" y1="427.3" x2="683" y2="427.3"/></g>
<g font-size="6.5" text-anchor="middle" fill="#222">
<text x="633" y="352">1.32</text><text x="669" y="369">-1.69</text><text x="704" y="368">-1.44</text><text x="740" y="369">-1.60</text>
<text x="633" y="420.5">-8.86</text><text x="669" y="433.5">-11.12</text><text x="704" y="412">-7.45</text><text x="740" y="415">-7.97</text>
</g>
<g stroke="#b0b0b0" stroke-width=".7" fill="none">
<polyline points="619,342 624,338 629,342 634,338 639,342 644,338 649,342"/><line x1="634" y1="338" x2="634" y2="333"/><line x1="634" y1="342" x2="634" y2="348"/>
</g>
<g stroke="#9ccf8a" stroke-width=".7"><line x1="661" y1="350" x2="677" y2="350"/><line x1="665" y1="343" x2="673" y2="357"/><line x1="673" y1="343" x2="665" y2="357"/><line x1="669" y1="342" x2="669" y2="358"/></g>
<circle cx="669" cy="350" r="1.6" fill="#f0a030"/><circle cx="657" cy="354" r="1.4" fill="#e060e0"/>
<g stroke="#aaa" stroke-width=".7"><line x1="700" y1="355" x2="700" y2="347"/><line x1="700" y1="355" x2="694" y2="359"/><line x1="700" y1="355" x2="707" y2="358"/></g>
<circle cx="700" cy="355" r="1.5" fill="#4070e0"/><circle cx="700" cy="346" r="1.2" fill="#e03030"/><circle cx="693" cy="359" r="1.2" fill="#e03030"/><circle cx="708" cy="358" r="1.2" fill="#e03030"/><circle cx="714" cy="353" r="1.3" fill="#e060e0"/>
<g stroke="#aaa" stroke-width=".7"><line x1="740" y1="340" x2="740" y2="356"/><line x1="732" y1="348" x2="748" y2="348"/></g>
<circle cx="740" cy="348" r="1.6" fill="#a040e0"/><circle cx="740" cy="340" r="1.2" fill="#e03030"/><circle cx="740" cy="356" r="1.2" fill="#e03030"/><circle cx="732" cy="348" r="1.2" fill="#e03030"/><circle cx="748" cy="348" r="1.2" fill="#e03030"/><circle cx="754" cy="345" r="1.3" fill="#e060e0"/>
<g font-size="9.5" text-anchor="middle" fill="#222">
<text x="633" y="449">TEP</text>
<text x="669" y="449">LiPF<tspan font-size="6.5" dy="2">6</tspan></text>
<text x="704" y="449">LiNO<tspan font-size="6.5" dy="2">3</tspan></text>
<text x="740" y="449">LiClO<tspan font-size="6.5" dy="2">4</tspan></text>
</g>

<!-- ===== Panel k ===== -->
<text x="382" y="471" font-size="17">k</text>
<rect x="426" y="472" width="142" height="111" fill="none" stroke="#444" stroke-width="0.9"/>
<path d="M423,583H426M423,561H426M423,539H426M423,517H426M423,495H426M423,473H426M428,583V586M473,583V586M518,583V586M563,583V586" stroke="#444" stroke-width="0.9"/>
<g font-size="9" text-anchor="end" fill="#222">
<text x="421" y="586.2">0.0</text><text x="421" y="564.2">0.2</text><text x="421" y="542.2">0.4</text><text x="421" y="520.2">0.6</text><text x="421" y="498.2">0.8</text><text x="421" y="476.2">1.0</text>
</g>
<g font-size="9.5" text-anchor="middle" fill="#222"><text x="428" y="595">60</text><text x="473" y="595">80</text><text x="518" y="595">100</text><text x="563" y="595">120</text></g>
<text x="497" y="606" font-size="10.5" text-anchor="middle">Time (min)</text>
<text transform="translate(403,528) rotate(-90)" font-size="10" text-anchor="middle">Intensity (a.u.)</text>
<polyline fill="none" stroke="#ff2a8c" stroke-width="0.9" points="428,473 433.6,474.1 439.3,474.7 444.9,480.7 450.5,481.3 456.1,481.8 461.8,483.5 467.4,486.8 473,486.8 478.6,486.2 484.3,493.4 489.9,498.9 495.5,501.6 501.1,507.1 506.8,511.5 512.4,508.2 518,513.7 523.6,517 529.3,522 534.9,523.1 540.5,523.1 546.1,526.9 551.8,526.9 557.4,526.4 563,526.9"/>
<polyline fill="none" stroke="#2aa39b" stroke-width="0.9" points="428,473 433.6,475.8 439.3,473 444.9,476.9 450.5,476.9 456.1,477.9 461.8,477.9 467.4,483.5 473,483.5 478.6,496.1 484.3,502.7 489.9,508.2 495.5,512.1 501.1,521.4 506.8,519.2 512.4,524.7 518,528 523.6,530.2 529.3,533.5 534.9,537.9 540.5,542.3 546.1,543.4 551.8,555.5 557.4,563.2 563,568.7"/>
<g fill="url(#mPink)">
<circle cx="428" cy="473" r="2.3"/><circle cx="433.6" cy="474.1" r="2.3"/><circle cx="439.3" cy="474.7" r="2.3"/><circle cx="444.9" cy="480.7" r="2.3"/><circle cx="450.5" cy="481.3" r="2.3"/><circle cx="456.1" cy="481.8" r="2.3"/><circle cx="461.8" cy="483.5" r="2.3"/><circle cx="467.4" cy="486.8" r="2.3"/><circle cx="473" cy="486.8" r="2.3"/><circle cx="478.6" cy="486.2" r="2.3"/><circle cx="484.3" cy="493.4" r="2.3"/><circle cx="489.9" cy="498.9" r="2.3"/><circle cx="495.5" cy="501.6" r="2.3"/><circle cx="501.1" cy="507.1" r="2.3"/><circle cx="506.8" cy="511.5" r="2.3"/><circle cx="512.4" cy="508.2" r="2.3"/><circle cx="518" cy="513.7" r="2.3"/><circle cx="523.6" cy="517" r="2.3"/><circle cx="529.3" cy="522" r="2.3"/><circle cx="534.9" cy="523.1" r="2.3"/><circle cx="540.5" cy="523.1" r="2.3"/><circle cx="546.1" cy="526.9" r="2.3"/><circle cx="551.8" cy="526.9" r="2.3"/><circle cx="557.4" cy="526.4" r="2.3"/><circle cx="563" cy="526.9" r="2.3"/>
</g>
<g fill="url(#mTeal)">
<circle cx="428" cy="473" r="2.3"/><circle cx="433.6" cy="475.8" r="2.3"/><circle cx="439.3" cy="473" r="2.3"/><circle cx="444.9" cy="476.9" r="2.3"/><circle cx="450.5" cy="476.9" r="2.3"/><circle cx="456.1" cy="477.9" r="2.3"/><circle cx="461.8" cy="477.9" r="2.3"/><circle cx="467.4" cy="483.5" r="2.3"/><circle cx="473" cy="483.5" r="2.3"/><circle cx="478.6" cy="496.1" r="2.3"/><circle cx="484.3" cy="502.7" r="2.3"/><circle cx="489.9" cy="508.2" r="2.3"/><circle cx="495.5" cy="512.1" r="2.3"/><circle cx="501.1" cy="521.4" r="2.3"/><circle cx="506.8" cy="519.2" r="2.3"/><circle cx="512.4" cy="524.7" r="2.3"/><circle cx="518" cy="528" r="2.3"/><circle cx="523.6" cy="530.2" r="2.3"/><circle cx="529.3" cy="533.5" r="2.3"/><circle cx="534.9" cy="537.9" r="2.3"/><circle cx="540.5" cy="542.3" r="2.3"/><circle cx="546.1" cy="543.4" r="2.3"/><circle cx="551.8" cy="555.5" r="2.3"/><circle cx="557.4" cy="563.2" r="2.3"/><circle cx="563" cy="568.7" r="2.3"/>
</g>
<line x1="429" y1="565" x2="444" y2="565" stroke="#2aa39b" stroke-width=".9"/><circle cx="436.5" cy="565" r="2.3" fill="url(#mTeal)"/>
<text x="447" y="568" font-size="8">TEP</text>
<line x1="429" y1="575" x2="444" y2="575" stroke="#ff2a8c" stroke-width=".9"/><circle cx="436.5" cy="575" r="2.3" fill="url(#mPink)"/>
<text x="447" y="578" font-size="8">ClO<tspan font-size="5.5" dy="2">4</tspan><tspan font-size="5.5" dy="-5">−</tspan></text>

<!-- ===== Panel i ===== -->
<text x="583" y="470" font-size="17">i</text>
<rect x="619" y="468" width="138" height="115" fill="none" stroke="#444" stroke-width="0.9"/>
<path d="M616,583H619M616,544.7H619M616,506.3H619M616,468H619" stroke="#444" stroke-width="0.9"/>
<g font-size="9" text-anchor="end" fill="#222">
<text x="614" y="586.2">0.0</text><text x="614" y="547.9">0.3</text><text x="614" y="509.5">0.6</text><text x="614" y="471.2">0.9</text>
</g>
<text transform="translate(594,527) rotate(-90)" font-size="9.5" text-anchor="middle">ion mobility number</text>
<g stroke="#666" stroke-width=".5">
<rect x="622" y="491" width="37" height="92" fill="url(#gI)"/>
<rect x="669" y="510.2" width="38" height="72.8" fill="url(#gI)"/>
<rect x="716" y="549.8" width="37" height="33.2" fill="url(#gI)"/>
</g>
<g stroke="#0f4f48" stroke-width="1"><line x1="622" y1="491" x2="659" y2="491"/><line x1="669" y1="510.2" x2="707" y2="510.2"/><line x1="716" y1="549.8" x2="753" y2="549.8"/></g>
<g font-size="8" text-anchor="middle" fill="#222">
<text x="640.5" y="489">0.72</text><text x="688" y="508.3">0.57</text><text x="734.5" y="548">0.26</text>
<text x="640" y="595">N/O-Control</text><text x="688" y="595">O-Control</text><text x="735" y="595">F-Comtrol</text>
</g>
<text x="686" y="606" font-size="10" text-anchor="middle">Types of electrolyte</text>
</svg>
</body></html>
